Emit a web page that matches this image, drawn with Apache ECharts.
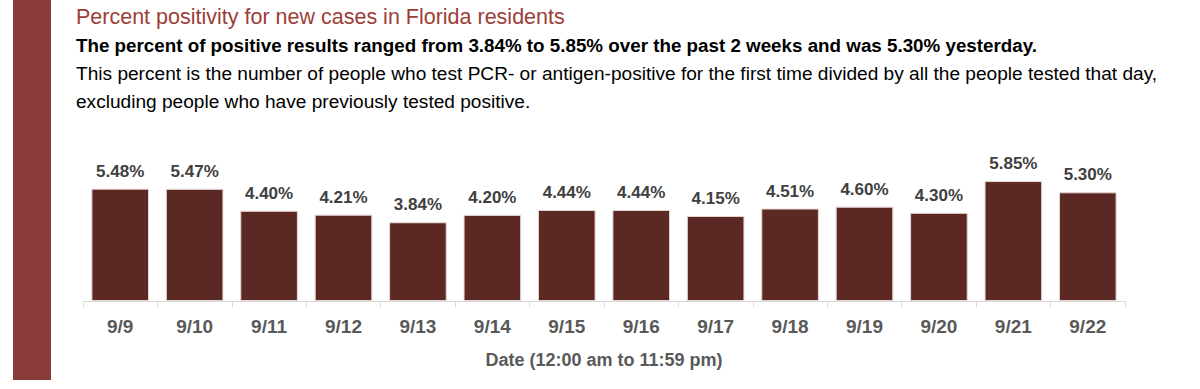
<!DOCTYPE html>
<html><head><meta charset="utf-8">
<script src="https://cdn.jsdelivr.net/npm/echarts@6/dist/echarts.min.js"></script>
<style>html,body{margin:0;padding:0;background:#fff}#c{width:1200px;height:389px}</style>
</head><body><div id="c"></div>
<script>
const titleText = 'Percent positivity for new cases in Florida residents';
const subtitleBold = 'The percent of positive results ranged from 3.84% to 5.85% over the past 2 weeks and was 5.30% yesterday.';
const noteLine1 = 'This percent is the number of people who test PCR- or antigen-positive for the first time divided by all the people tested that day,';
const noteLine2 = 'excluding people who have previously tested positive.';
const categories = ['9/9','9/10','9/11','9/12','9/13','9/14','9/15','9/16','9/17','9/18','9/19','9/20','9/21','9/22'];
const positivity = [5.48,5.47,4.40,4.21,3.84,4.20,4.44,4.44,4.15,4.51,4.60,4.30,5.85,5.30];
const xAxisTitle = 'Date (12:00 am to 11:59 pm)';

const FONT = '"Liberation Sans", sans-serif';
const chart = echarts.init(document.getElementById('c'), null, {renderer: 'svg'});
chart.setOption({
  animation: false,
  grid: {left: 83, right: 75, top: 178, bottom: 88},
  graphic: [
    {type: 'rect', shape: {x: 13, y: 0, width: 38, height: 380}, style: {fill: '#8B3A3A'}},
    {type: 'text', left: 76, top: 6, style: {text: titleText, fill: '#9E3D37', font: '21.5px ' + FONT}},
    {type: 'text', left: 76, top: 36, style: {text: subtitleBold, fill: '#000', font: 'bold 18.8px ' + FONT}},
    {type: 'text', left: 76, top: 64, style: {text: noteLine1, fill: '#000', font: '19.1px ' + FONT}},
    {type: 'text', left: 76, top: 92, style: {text: noteLine2, fill: '#000', font: '19.1px ' + FONT}}
  ],
  xAxis: {
    type: 'category', data: categories,
    name: xAxisTitle, nameLocation: 'middle', nameGap: 50,
    nameTextStyle: {color: '#595959', fontFamily: FONT, fontWeight: 'bold', fontSize: 18},
    axisLine: {lineStyle: {color: '#d9d9d9', width: 1}},
    axisTick: {show: true, length: 6, lineStyle: {color: '#d9d9d9'}},
    axisLabel: {color: '#595959', fontFamily: FONT, fontWeight: 'bold', fontSize: 19, margin: 16}
  },
  yAxis: {type: 'value', min: 0, max: 6, show: false, splitLine: {show: false}},
  series: [{
    type: 'bar', data: positivity, barCategoryGap: '22.6%',
    itemStyle: {color: '#5C2824', borderColor: '#e6d6d4', borderWidth: 1},
    label: {show: true, position: 'top', distance: 9, color: '#404040', fontFamily: FONT, fontWeight: 'bold', fontSize: 17,
      formatter: p => p.value.toFixed(2) + '%'}
  }]
});
</script></body></html>
